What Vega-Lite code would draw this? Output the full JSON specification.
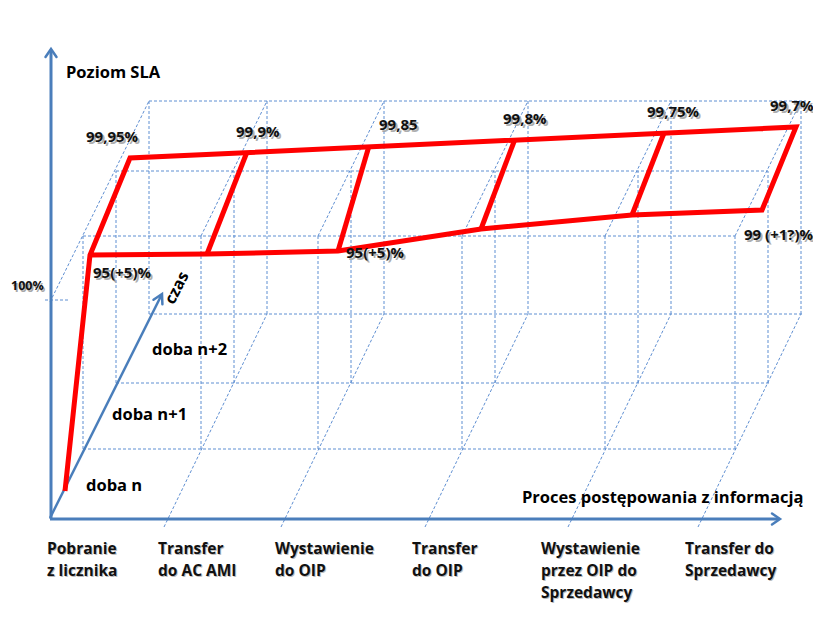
{
  "$schema": "https://vega.github.io/schema/vega-lite/v6.json",
  "width": 813,
  "height": 623,
  "padding": 0,
  "autosize": {"type": "none"},
  "background": "white",
  "config": {"view": {"stroke": null}},
  "datasets": {
    "grid": [
      {"x":83,"y":449,"x2":83,"y2":236},{"x":116,"y":383,"x2":116,"y2":171},{"x":149,"y":314,"x2":149,"y2":101},
      {"x":201,"y":449,"x2":201,"y2":236},{"x":234,"y":383,"x2":234,"y2":171},{"x":267,"y":314,"x2":267,"y2":101},
      {"x":318,"y":449,"x2":318,"y2":236},{"x":351,"y":383,"x2":351,"y2":171},{"x":384,"y":314,"x2":384,"y2":101},
      {"x":462,"y":449,"x2":462,"y2":236},{"x":495,"y":383,"x2":495,"y2":171},{"x":528,"y":314,"x2":528,"y2":101},
      {"x":605,"y":449,"x2":605,"y2":236},{"x":638,"y":383,"x2":638,"y2":171},{"x":671,"y":314,"x2":671,"y2":101},
      {"x":735,"y":449,"x2":735,"y2":236},{"x":768,"y":383,"x2":768,"y2":171},{"x":801,"y":314,"x2":801,"y2":101},
      {"x":83,"y":449,"x2":738,"y2":449},{"x":116,"y":383,"x2":771,"y2":383},{"x":149,"y":314,"x2":804,"y2":314},
      {"x":83,"y":236,"x2":735,"y2":236},{"x":116,"y":171,"x2":768,"y2":171},{"x":149,"y":101,"x2":806,"y2":101},
      {"x":164,"y":527,"x2":267,"y2":314},{"x":281,"y":527,"x2":384,"y2":314},{"x":425,"y":527,"x2":528,"y2":314},
      {"x":568,"y":527,"x2":671,"y2":314},{"x":698,"y":527,"x2":801,"y2":314},
      {"x":50,"y":302,"x2":149,"y2":101},{"x":201,"y":236,"x2":267,"y2":101},{"x":318,"y":236,"x2":384,"y2":101},
      {"x":462,"y":236,"x2":528,"y2":101},{"x":605,"y":236,"x2":671,"y2":101},{"x":735,"y":236,"x2":801,"y2":101},
      {"x":45,"y":300,"x2":70,"y2":300}
    ],
    "axes": [
      {"x":51,"y":519,"x2":51,"y2":50},
      {"x":50,"y":519,"x2":779,"y2":519}
    ],
    "czas": [
      {"x":50,"y":518,"x2":161,"y2":296}
    ],
    "heads": [
      {"id":"v","o":1,"x":45.5,"y":57},{"id":"v","o":2,"x":51,"y":49},{"id":"v","o":3,"x":56.5,"y":57},
      {"id":"h","o":1,"x":772,"y":513.5},{"id":"h","o":2,"x":780,"y":519},{"id":"h","o":3,"x":772,"y":524.5},
      {"id":"c","o":1,"x":162.4,"y":304.3},{"id":"c","o":2,"x":162,"y":294},{"id":"c","o":3,"x":153.5,"y":299.8}
    ],
    "red": [
      {"seg":"main","o":1,"x":65,"y":491},{"seg":"main","o":2,"x":90,"y":255},{"seg":"main","o":3,"x":130,"y":158},
      {"seg":"main","o":4,"x":796,"y":127},{"seg":"main","o":5,"x":762,"y":210},{"seg":"main","o":6,"x":632,"y":215},
      {"seg":"main","o":7,"x":481,"y":229},{"seg":"main","o":8,"x":338,"y":251},{"seg":"main","o":9,"x":207,"y":254},
      {"seg":"main","o":10,"x":90,"y":255},
      {"seg":"d2","o":1,"x":247,"y":152},{"seg":"d2","o":2,"x":207,"y":254},
      {"seg":"d3","o":1,"x":369,"y":146},{"seg":"d3","o":2,"x":338,"y":251},
      {"seg":"d4","o":1,"x":515,"y":139},{"seg":"d4","o":2,"x":481,"y":229},
      {"seg":"d5","o":1,"x":664,"y":133},{"seg":"d5","o":2,"x":632,"y":215}
    ],
    "values": [
      {"t":"99,95%","x":86,"y":137},{"t":"99,9%","x":236,"y":132},{"t":"99,85","x":379,"y":125},
      {"t":"99,8%","x":503,"y":119},{"t":"99,75%","x":647,"y":112},{"t":"99,7%","x":770,"y":106},
      {"t":"99 (+1?)%","x":744,"y":235},{"t":"95(+5)%","x":346,"y":253},{"t":"95(+5)%","x":93,"y":273}
    ],
    "small": [
      {"t":"100%","x":11,"y":286}
    ],
    "titles": [
      {"t":"Poziom SLA","x":66,"y":73},
      {"t":"Proces postępowania z informacją","x":522,"y":498},
      {"t":"doba n+2","x":152,"y":350},
      {"t":"doba n+1","x":112,"y":415},
      {"t":"doba n","x":86,"y":486}
    ],
    "czaslabel": [
      {"t":"czas","x":177,"y":288}
    ],
    "steps": [
      {"t":"Pobranie","x":47,"y":549},{"t":"z licznika","x":47,"y":571},
      {"t":"Transfer","x":158,"y":549},{"t":"do AC AMI","x":158,"y":571},
      {"t":"Wystawienie","x":275,"y":549},{"t":"do OIP","x":275,"y":571},
      {"t":"Transfer","x":412,"y":549},{"t":"do OIP","x":412,"y":571},
      {"t":"Wystawienie","x":541,"y":549},{"t":"przez OIP do","x":541,"y":571},{"t":"Sprzedawcy","x":541,"y":593},
      {"t":"Transfer do","x":685,"y":549},{"t":"Sprzedawcy","x":685,"y":571}
    ]
  },
  "encoding": {
    "x": {"field":"x","type":"quantitative","scale":{"domain":[0,813],"nice":false,"zero":false},"axis":null},
    "y": {"field":"y","type":"quantitative","scale":{"domain":[0,623],"nice":false,"zero":false,"reverse":true},"axis":null}
  },
  "layer": [
    {
      "data": {"name":"grid"},
      "mark": {"type":"rule","color":"#5f8fd2","strokeWidth":1,"strokeDash":[3,2]},
      "encoding": {"x2":{"field":"x2"},"y2":{"field":"y2"}}
    },
    {
      "data": {"name":"axes"},
      "mark": {"type":"rule","color":"#4a7ebb","strokeWidth":3},
      "encoding": {"x2":{"field":"x2"},"y2":{"field":"y2"}}
    },
    {
      "data": {"name":"czas"},
      "mark": {"type":"rule","color":"#4a7ebb","strokeWidth":2.5},
      "encoding": {"x2":{"field":"x2"},"y2":{"field":"y2"}}
    },
    {
      "data": {"name":"heads"},
      "mark": {"type":"line","color":"#4a7ebb","strokeWidth":2.5,"strokeJoin":"miter","strokeCap":"round"},
      "encoding": {"detail":{"field":"id"},"order":{"field":"o","type":"quantitative"}}
    },
    {
      "data": {"name":"red"},
      "mark": {"type":"line","color":"#ff0000","strokeWidth":5,"strokeJoin":"miter","strokeCap":"butt"},
      "encoding": {"detail":{"field":"seg"},"order":{"field":"o","type":"quantitative"}}
    },
    {
      "data": {"name":"values"},
      "mark": {"type":"text","font":"Open Sans","fontWeight":"bold","fontSize":15,"align":"left","baseline":"middle","color":"#a0a0a0","dx":2,"dy":2,"opacity":0.85},
      "encoding": {"text":{"field":"t"}}
    },
    {
      "data": {"name":"values"},
      "mark": {"type":"text","font":"Open Sans","fontWeight":"bold","fontSize":15,"align":"left","baseline":"middle","color":"#111111"},
      "encoding": {"text":{"field":"t"}}
    },
    {
      "data": {"name":"small"},
      "mark": {"type":"text","font":"Open Sans","fontWeight":"bold","fontSize":12.5,"align":"left","baseline":"middle","color":"#a8a8a8","dx":1.5,"dy":1.5},
      "encoding": {"text":{"field":"t"}}
    },
    {
      "data": {"name":"small"},
      "mark": {"type":"text","font":"Open Sans","fontWeight":"bold","fontSize":12.5,"align":"left","baseline":"middle","color":"#111111"},
      "encoding": {"text":{"field":"t"}}
    },
    {
      "data": {"name":"titles"},
      "mark": {"type":"text","font":"Open Sans","fontWeight":"bold","fontSize":16.5,"align":"left","baseline":"middle","color":"#000000"},
      "encoding": {"text":{"field":"t"}}
    },
    {
      "data": {"name":"czaslabel"},
      "mark": {"type":"text","font":"Open Sans","fontWeight":"bold","fontSize":16,"align":"center","baseline":"middle","angle":297,"color":"#000000"},
      "encoding": {"text":{"field":"t"}}
    },
    {
      "data": {"name":"steps"},
      "mark": {"type":"text","font":"Open Sans","fontWeight":"bold","fontSize":15.5,"align":"left","baseline":"middle","color":"#bdbdbd","dx":1,"dy":1},
      "encoding": {"text":{"field":"t"}}
    },
    {
      "data": {"name":"steps"},
      "mark": {"type":"text","font":"Open Sans","fontWeight":"bold","fontSize":15.5,"align":"left","baseline":"middle","color":"#111111"},
      "encoding": {"text":{"field":"t"}}
    }
  ]
}
